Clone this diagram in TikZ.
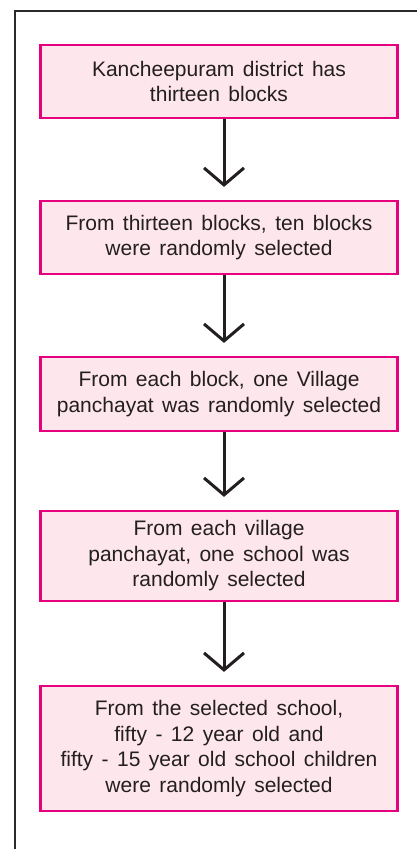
\documentclass[tikz,border=0pt]{standalone}
\usepackage{fontspec}
\setmainfont[WordSpace=1.45]{Liberation Sans}
\usetikzlibrary{arrows.meta}
\definecolor{frame}{HTML}{2B2A2B}
\definecolor{boxline}{HTML}{E6007E}
\definecolor{boxfill}{HTML}{FDE6EC}
\definecolor{ink}{HTML}{231F20}
\begin{document}
\begin{tikzpicture}[x=1pt,y=-1pt,
  stepbox/.style={draw=boxline, fill=boxfill, line width=2.2pt, minimum width=357pt,
    inner sep=0pt, align=center, text=ink,
    font=\fontsize{21}{25.5}\selectfont},
  arr/.style={draw=ink, line width=3pt, -{Straight Barb[length=17pt,width=40pt,line width=3pt]}, shorten >=13pt}
]
\useasboundingbox (0,0) rectangle (417,849);
\draw[frame, line width=2pt] (15,860) -- (15,11) -- (430,11);
\node[stepbox, minimum height=73pt] (b1) at (219,81.5) {Kancheepuram district has\\thirteen blocks};
\node[stepbox, minimum height=73pt] (b2) at (219,237.5) {From thirteen blocks, ten blocks\\were randomly selected};
\node[stepbox, minimum height=74pt] (b3) at (219,394) {From each block, one Village\\panchayat was randomly selected};
\node[stepbox, minimum height=90pt] (b4) at (219,556) {From each village\\panchayat, one school was\\randomly selected};
\node[stepbox, minimum height=125pt] (b5) at (219,748.5) {From the selected school,\\fifty - 12 year old and\\fifty - 15 year old school children\\were randomly selected};
\draw[arr] ([xshift=5pt]b1.south) -- ([xshift=5pt]b2.north);
\draw[arr] ([xshift=5pt]b2.south) -- ([xshift=5pt]b3.north);
\draw[arr] ([xshift=5pt]b3.south) -- ([xshift=5pt]b4.north);
\draw[arr] ([xshift=5pt]b4.south) -- ([xshift=5pt]b5.north);
\end{tikzpicture}
\end{document}
